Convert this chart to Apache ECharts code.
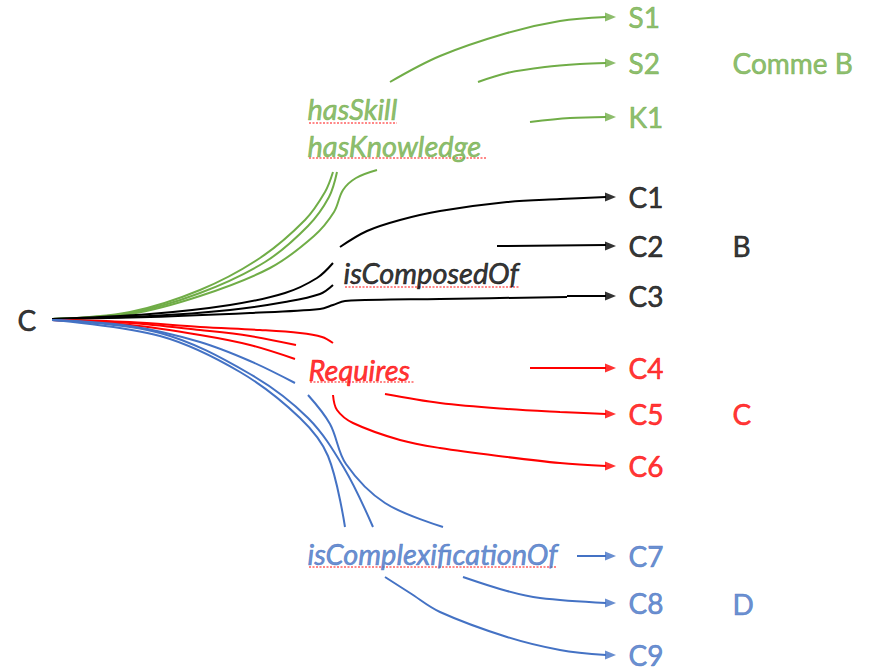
<!DOCTYPE html>
<html>
<head>
<meta charset="utf-8">
<script src="https://cdn.jsdelivr.net/npm/echarts@6/dist/echarts.min.js"></script>
<style>
  html, body { margin: 0; background: #fff; }
  #chart { width: 880px; height: 667px; }
</style>
</head>
<body>
<div id="chart"></div>
<script>
// target concepts, their rows and group
const nodeNames = ['S1', 'S2', 'K1', 'C1', 'C2', 'C3', 'C4', 'C5', 'C6', 'C7', 'C8', 'C9']
const nodeY = [17, 63, 117, 197, 246, 296, 368, 414, 466, 556, 603, 655]
const nodeGroup = [0, 0, 0, 1, 1, 1, 2, 2, 2, 3, 3, 3]

// groups: relation name(s) and the tag on the right
const groupColors = ['#70AD47', '#000000', '#FF0000', '#4472C4']
const groupTags = ['Comme B', 'B', 'C', 'D']
const groupTagY = [63, 246, 414, 604]
const relationNames = ['hasSkill', 'hasKnowledge', 'isComposedOf', 'Requires', 'isComplexificationOf']
const relationGroup = [0, 0, 1, 2, 3]

// source concept
const sourceName = 'C'

// fan of curves leaving C, per group (waypoints)
const fanPaths = [
  [
    [[52, 319], [130, 312], [200, 290], [260, 258], [305, 220], [325, 192], [333, 172]],
    [[52, 319], [130, 313], [200, 293], [265, 262], [308, 226], [329, 197], [337, 172]],
    [[52, 319], [130, 314], [200, 296], [270, 268], [314, 236], [334, 212], [343, 190], [356, 178], [377, 170]]
  ],
  [
    [[52, 319], [150, 314], [230, 305], [285, 293], [317, 278], [333, 263]],
    [[52, 319], [150, 316], [230, 310], [285, 302], [320, 294], [333, 285]],
    [[52, 319], [150, 317], [250, 313], [320, 309], [333, 305], [345, 301], [440, 299], [567, 297]]
  ],
  [
    [[52, 320], [130, 322], [200, 327], [260, 330], [300, 333], [322, 337], [333, 343]],
    [[52, 320], [130, 323], [200, 330], [250, 336], [296, 345]],
    [[52, 320], [130, 325], [200, 335], [250, 345], [295, 359]]
  ],
  [
    [[52, 320], [130, 326], [200, 342], [250, 361], [295, 383]],
    [[52, 320], [160, 333], [250, 374], [308, 418], [344, 468], [373, 527]],
    [[52, 320], [160, 336], [240, 372], [300, 418], [328, 456], [345, 527]],
    [[308, 395], [330, 424], [346, 464], [385, 503], [443, 527]]
  ]
]

// curves arriving at each target (waypoints)
const targetPaths = [
  [[390, 82], [440, 56], [507, 33], [560, 21], [606, 17]],
  [[478, 82], [507, 73], [545, 67], [580, 64], [606, 63]],
  [[530, 122], [570, 118], [606, 117]],
  [[340, 247], [367, 231], [400, 220], [440, 211], [507, 202], [560, 199], [606, 197]],
  [[497, 246], [606, 245]],
  [[567, 296], [606, 296]],
  [[530, 368], [606, 368]],
  [[385, 394], [440, 403], [507, 409], [560, 412], [606, 414]],
  [[333, 395], [337, 410], [353, 423], [400, 440], [440, 448], [507, 457], [560, 463], [606, 466]],
  [[577, 556], [606, 556]],
  [[463, 577], [507, 591], [540, 598], [606, 603]],
  [[385, 577], [410, 593], [440, 612], [507, 637], [560, 650], [606, 655]]
]

// ---- layout ----
const arrowX = 610.5
const nodeX = 628
const tagX = 732
const sourcePos = [17, 320]
const relationPos = [[307, 108], [307, 145], [343, 272], [308, 369], [307, 553]]
const relationSpan = [[309, 397, 123], [309, 487, 158], [345, 519, 287], [310, 415, 382], [309, 557, 567]]
const font = 'Lato, "Open Sans", sans-serif'

const chart = echarts.init(document.getElementById('chart'), null, { renderer: 'svg' })

const curve = (data, color) => ({
  type: 'line',
  data,
  smooth: 0.35,
  showSymbol: false,
  silent: true,
  z: 2,
  lineStyle: { color, width: 2 }
})

const series = []
fanPaths.forEach((paths, g) => paths.forEach(p => series.push(curve(p, groupColors[g]))))
targetPaths.forEach((p, i) => series.push(curve(p, groupColors[nodeGroup[i]])))

// spell-check squiggles under the relation names
relationSpan.forEach(s => series.push({
  type: 'line',
  data: [[s[0], s[2]], [s[1], s[2]]],
  showSymbol: false,
  silent: true,
  z: 3,
  lineStyle: { color: '#ff6060', width: 1.4, type: [2, 1.5] }
}))

// arrow heads
series.push({
  type: 'scatter',
  symbol: 'path://M0,0 L11,4.5 L0,9 Z',
  symbolSize: [11, 9],
  silent: true,
  z: 4,
  data: nodeY.map((y, i) => ({ value: [arrowX, y], itemStyle: { color: groupColors[nodeGroup[i]] } }))
})

const textSeries = (data, size, italic) => ({
  type: 'scatter',
  symbolSize: 1,
  silent: true,
  z: 5,
  itemStyle: { color: 'rgba(0,0,0,0)' },
  label: {
    show: true,
    position: 'right',
    distance: 0,
    fontFamily: font,
    fontSize: size,
    fontStyle: italic ? 'italic' : 'normal',
    textBorderWidth: 0.6,
    formatter: p => p.name
  },
  data
})

const colored = c => ({ color: c, textBorderColor: c })

series.push(textSeries(nodeNames.map((n, i) => ({
  name: n, value: [nodeX, nodeY[i]], label: colored(groupColors[nodeGroup[i]])
})), 28, false))

series.push(textSeries(groupTags.map((n, i) => ({
  name: n, value: [tagX, groupTagY[i]], label: colored(groupColors[i])
})), 28, false))

series.push(textSeries([{ name: sourceName, value: sourcePos, label: colored('#000') }], 28, false))

series.push(textSeries(relationNames.map((n, i) => ({
  name: n, value: relationPos[i], label: colored(groupColors[relationGroup[i]])
})), 29, true))

chart.setOption({
  animation: false,
  grid: { left: 0, right: 0, top: 0, bottom: 0 },
  xAxis: { type: 'value', min: 0, max: 880, show: false },
  yAxis: { type: 'value', min: 0, max: 667, inverse: true, show: false },
  series
})
</script>
</body>
</html>
